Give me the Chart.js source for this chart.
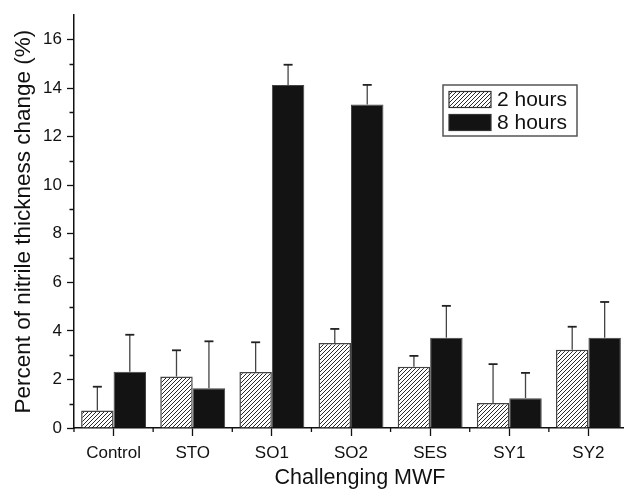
<!DOCTYPE html>
<html><head><meta charset="utf-8">
<script src="https://cdn.jsdelivr.net/npm/chart.js@4"></script>
<style>
html,body{margin:0;padding:0;background:#fff;overflow:hidden;width:624px;height:489px;}
#wrap{position:relative;width:640px;height:489px;}
</style></head>
<body><div id="wrap"><canvas id="c" width="640" height="489"></canvas></div>
<script>
const categories = ['Control','STO','SO1','SO2','SES','SY1','SY2'];
const seriesNames = ['2 hours','8 hours'];
const hours2 = [0.72, 2.12, 2.31, 3.50, 2.52, 1.03, 3.22];
const hours2Err = [0.98, 1.08, 1.22, 0.58, 0.45, 1.60, 0.95];
const hours8 = [2.32, 1.64, 14.13, 13.32, 3.72, 1.23, 3.72];
const hours8Err = [1.52, 1.93, 0.83, 0.81, 1.31, 1.04, 1.47];
const yTickLabels = [0, 2, 4, 6, 8, 10, 12, 14, 16];
const xTitle = 'Challenging MWF';
const yTitle = 'Percent of nitrile thickness change (%)';

const FONT = '"Liberation Sans", Arial, Helvetica, sans-serif';

function makeHatch(){
  const s = 4;
  const c = document.createElement('canvas');
  c.width = s; c.height = s;
  const g = c.getContext('2d');
  g.fillStyle = '#fff'; g.fillRect(0,0,s,s);
  g.strokeStyle = '#2a2a2a'; g.lineWidth = 1;
  g.beginPath();
  g.moveTo(-1, s+1); g.lineTo(s+1, -1);
  g.moveTo(-1, 1); g.lineTo(1, -1);
  g.moveTo(s-1, s+1); g.lineTo(s+1, s-1);
  g.stroke();
  return document.getElementById('c').getContext('2d').createPattern(c, 'repeat');
}
const hatch = makeHatch();

const extras = {
  id: 'extras',
  afterDatasetsDraw(chart){
    const ctx = chart.ctx;
    const y = chart.scales.y, x = chart.scales.x;
    const errs = [hours2Err, hours8Err];
    ctx.save();
    chart.data.datasets.forEach((ds, di) => {
      const meta = chart.getDatasetMeta(di);
      meta.data.forEach((el, i) => {
        const top = y.getPixelForValue(ds.data[i] + errs[di][i]);
        ctx.strokeStyle = '#444'; ctx.lineWidth = 1.3;
        ctx.beginPath();
        ctx.moveTo(el.x, el.y); ctx.lineTo(el.x, top);
        ctx.stroke();
        ctx.strokeStyle = '#222'; ctx.lineWidth = 1.8;
        ctx.beginPath();
        ctx.moveTo(el.x - 4.5, top); ctx.lineTo(el.x + 4.5, top);
        ctx.stroke();
      });
    });
    // minor ticks
    ctx.strokeStyle = '#111'; ctx.lineWidth = 1.3;
    const left = chart.chartArea.left, bottom = chart.chartArea.bottom;
    ctx.beginPath();
    for (let v = 1; v < 17; v += 2){
      const py = Math.round(y.getPixelForValue(v)) + 0.5;
      ctx.moveTo(left - 4.5, py); ctx.lineTo(left, py);
    }
    const n = categories.length;
    for (let i = 0; i <= n; i++){
      const px = x.getPixelForValue(i - 0.5);
      ctx.moveTo(px, bottom); ctx.lineTo(px, bottom + 4);
    }
    ctx.stroke();
    // x title
    ctx.fillStyle = '#111';
    ctx.font = '21.5px ' + FONT;
    ctx.textAlign = 'center'; ctx.textBaseline = 'alphabetic';
    ctx.fillText(xTitle, 360, 484);
    // legend
    const bx = 443, by = 85, bw = 134, bh = 51;
    ctx.fillStyle = '#fff'; ctx.fillRect(bx, by, bw, bh);
    ctx.strokeStyle = '#555'; ctx.lineWidth = 1.5;
    ctx.strokeRect(bx, by, bw, bh);
    const rows = [99.5, 122.5];
    const fills = [hatch, '#131313'];
    ctx.font = '21px ' + FONT;
    ctx.textAlign = 'left'; ctx.textBaseline = 'middle';
    rows.forEach((ry, k) => {
      ctx.fillStyle = fills[k];
      ctx.fillRect(449, ry - 8, 42, 16);
      ctx.strokeStyle = '#333'; ctx.lineWidth = 1.2;
      ctx.strokeRect(449, ry - 8, 42, 16);
      ctx.fillStyle = '#111';
      ctx.fillText(seriesNames[k], 497, ry + 1);
    });
    ctx.restore();
  }
};

new Chart(document.getElementById('c'), {
  type: 'bar',
  data: {
    labels: categories,
    datasets: [
      { label: seriesNames[0], data: hours2, backgroundColor: hatch, borderColor: '#444', borderWidth: 1.5, borderSkipped: 'bottom' },
      { label: seriesNames[1], data: hours8, backgroundColor: '#131313', borderColor: '#444', borderWidth: 1, borderSkipped: 'bottom' }
    ]
  },
  options: {
    responsive: false,
    animation: false,
    layout: { padding: { left: 0, right: 12, top: 14, bottom: 0 } },
    datasets: { bar: { categoryPercentage: 0.82, barPercentage: 1.0 } },
    plugins: { legend: { display: false }, tooltip: { enabled: false } },
    scales: {
      x: {
        offset: true,
        grid: { display: true, drawOnChartArea: false, drawTicks: true, offset: false, tickLength: 8, color: '#111', tickColor: '#111', tickWidth: 1.3 },
        border: { display: true, color: '#111', width: 1.5 },
        ticks: { color: '#111', font: { family: FONT, size: 17 }, padding: 7, maxRotation: 0, autoSkip: false },
        afterFit(s){ s.height = 61; }
      },
      y: {
        min: 0, max: 17,
        grid: { display: true, drawOnChartArea: false, drawTicks: true, tickLength: 7, color: '#111',
                tickColor: c => (yTickLabels.includes(c.tick.value) ? '#111' : 'rgba(0,0,0,0)'), tickWidth: 1.3 },
        border: { display: true, color: '#111', width: 1.5 },
        ticks: { stepSize: 2, color: '#111', font: { family: FONT, size: 17 }, padding: 5,
                 callback: v => (yTickLabels.includes(v) ? String(v) : '') },
        afterBuildTicks(s){ s.ticks = yTickLabels.map(v => ({ value: v })); },
        title: { display: true, text: yTitle, color: '#111', font: { family: FONT, size: 22.5 }, padding: { top: 10, bottom: 0 } },
        afterFit(s){ s.width = 74; }
      }
    }
  },
  plugins: [extras]
});
</script></body></html>
